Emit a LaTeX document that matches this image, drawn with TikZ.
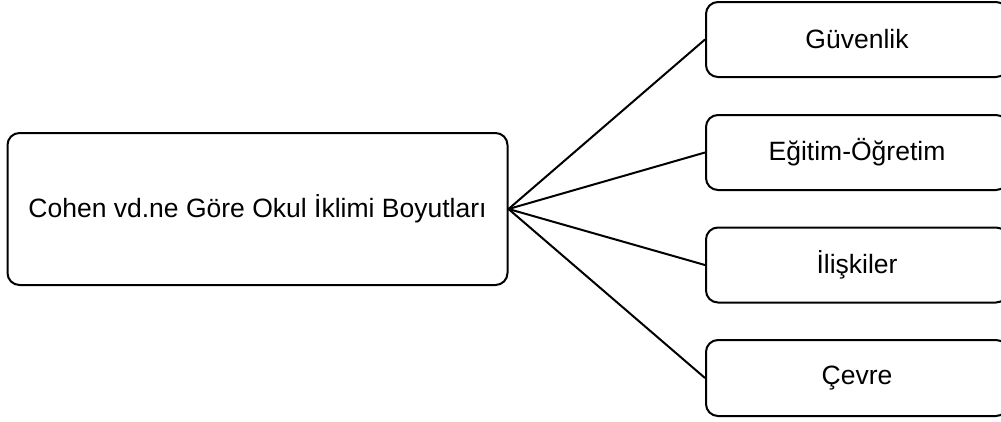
\documentclass[tikz,border=0pt]{standalone}
\usepackage{fontspec}
\setmainfont{Liberation Sans}
\begin{document}
\begin{tikzpicture}[x=1pt,y=-1pt,
  box/.style={draw, line width=2pt, rounded corners=12pt, inner sep=0pt, font=\fontsize{26.5}{30}\selectfont},
  link/.style={line width=2pt}]
\useasboundingbox (0,0) rectangle (1001,421);
\node[box, minimum width=500pt, minimum height=152pt] (main) at (257.5,209) {Cohen vd.ne Göre Okul İklimi Boyutları};
\node[box, minimum width=302pt, minimum height=75pt] (b1) at (857,39.5) {Güvenlik};
\node[box, minimum width=302pt, minimum height=75pt] (b2) at (857,152.5) {Eğitim-Öğretim};
\node[box, minimum width=302pt, minimum height=75pt] (b3) at (857,265) {İlişkiler};
\node[box, minimum width=302pt, minimum height=76pt] (b4) at (857,378) {Çevre};
\foreach \b in {b1,b2,b3,b4}
  \draw[link] (main.east) -- (\b.west);
\end{tikzpicture}
\end{document}
